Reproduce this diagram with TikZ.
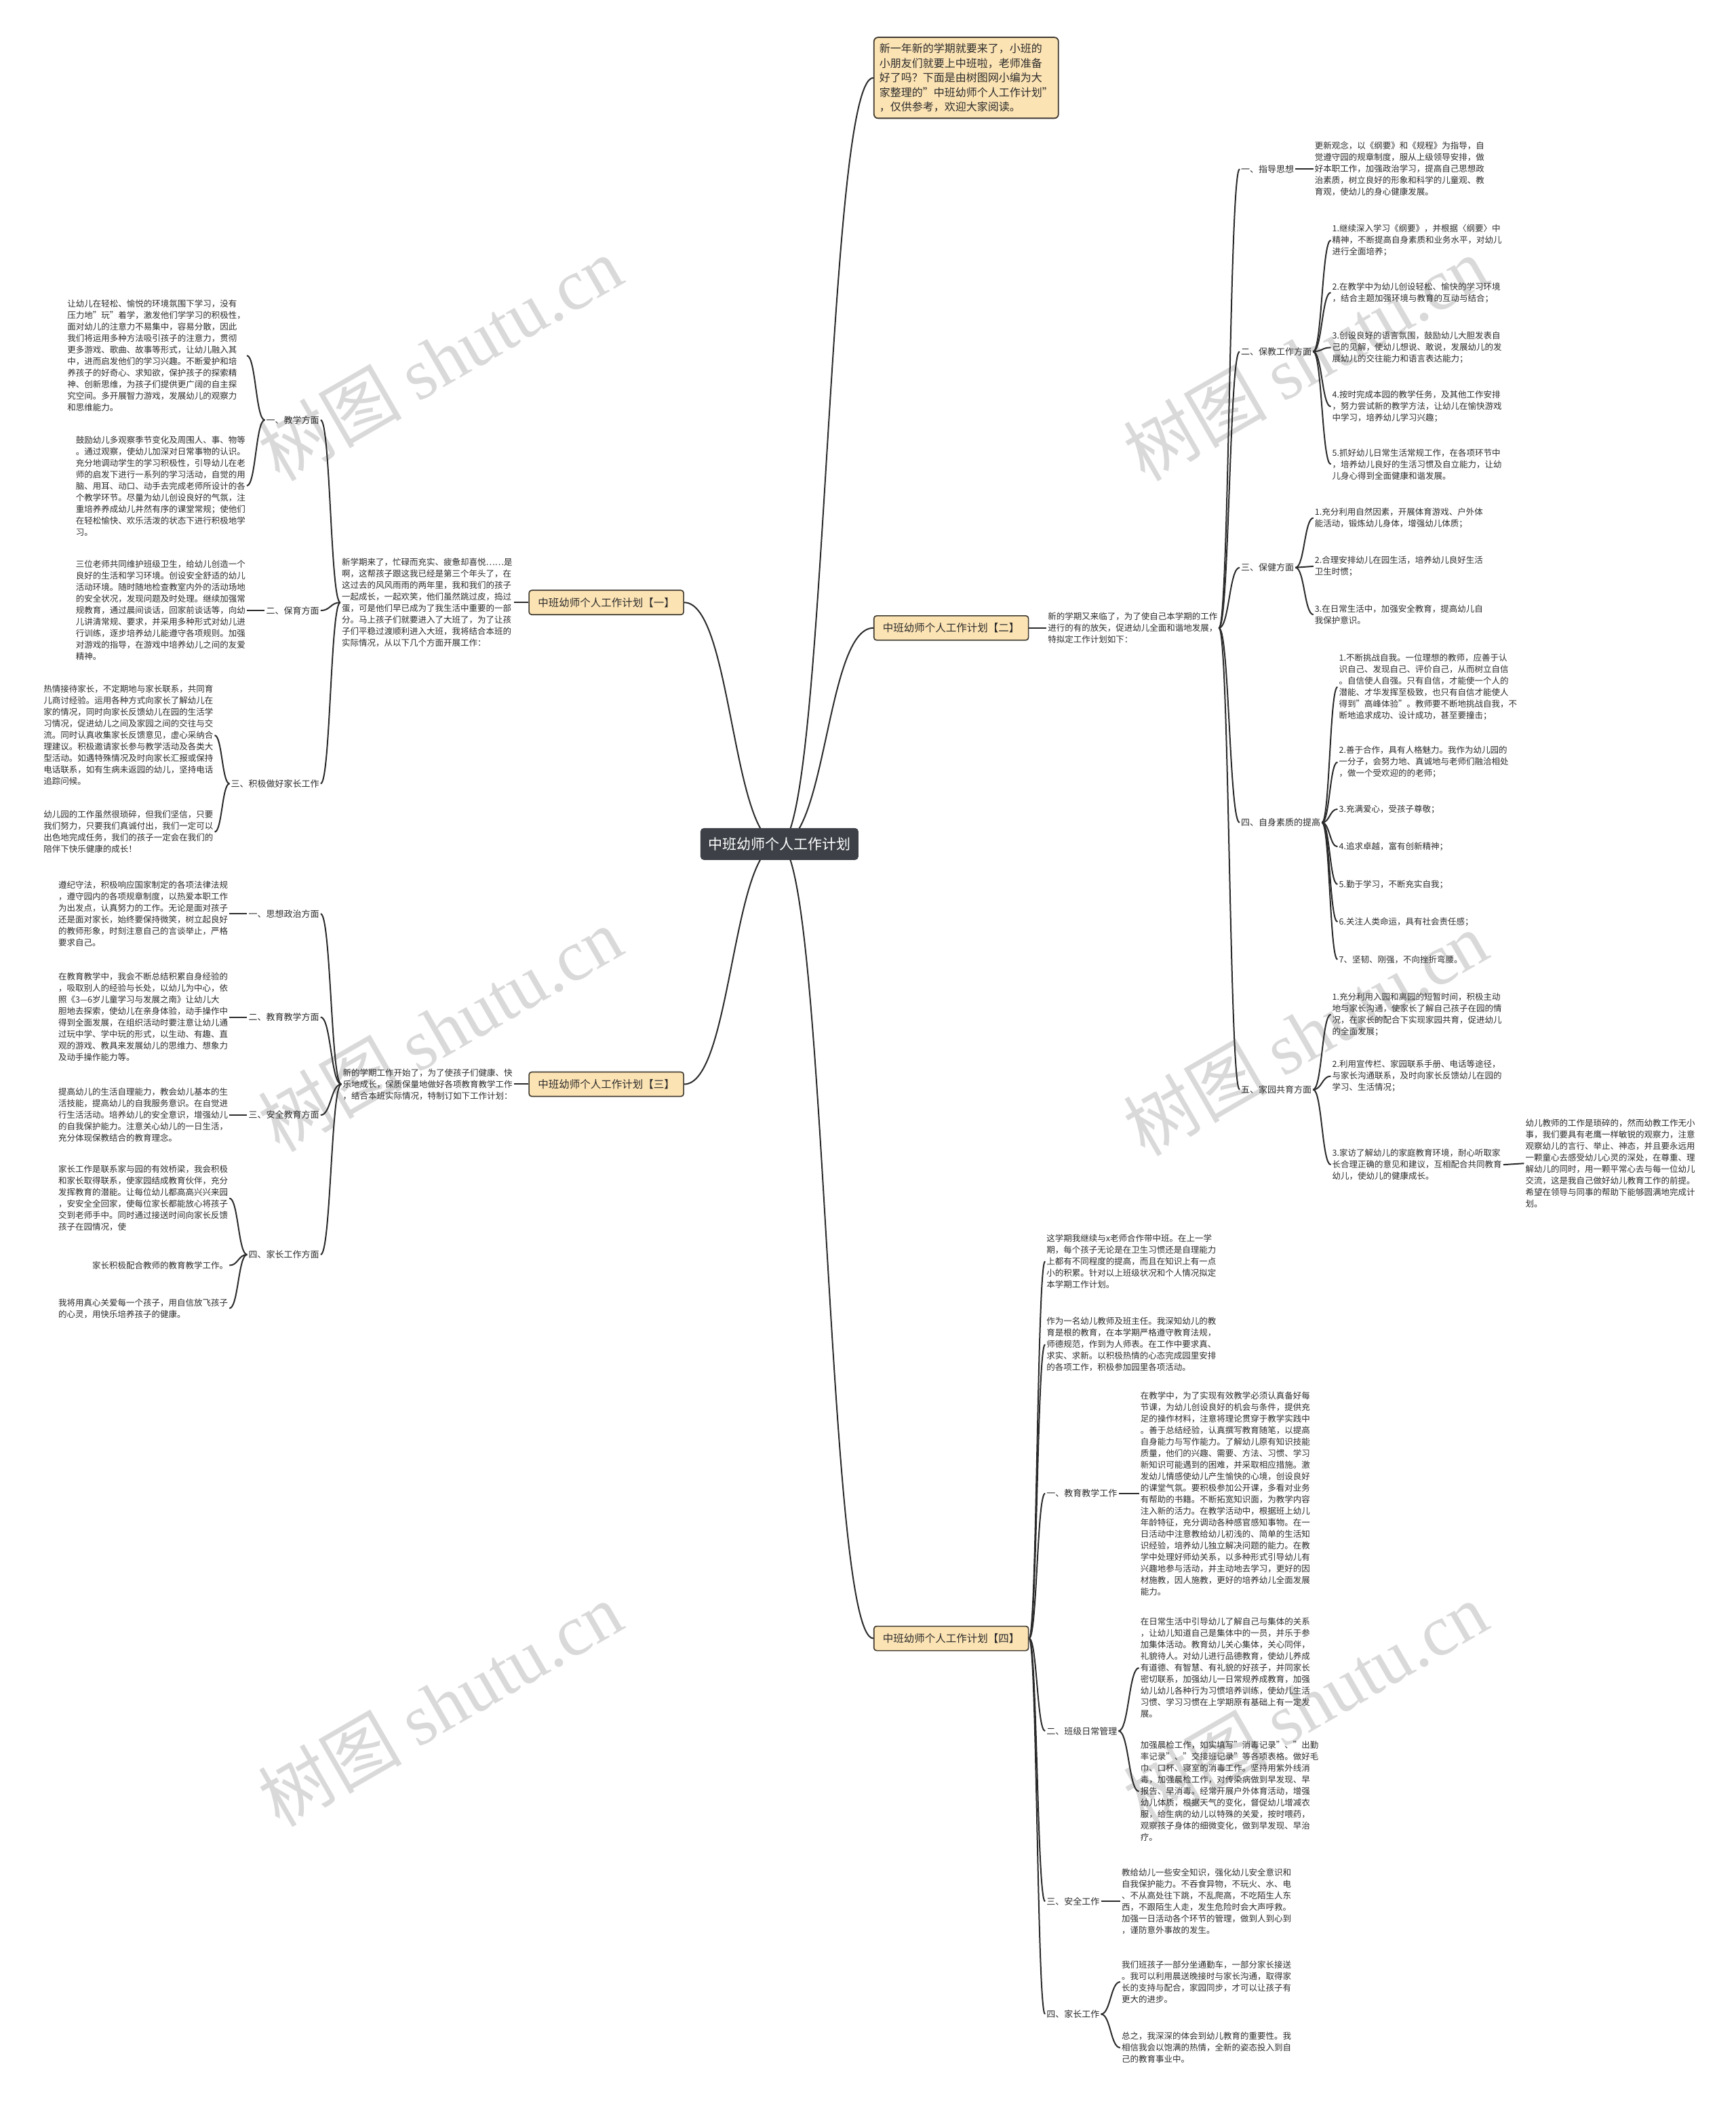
\documentclass[tikz,border=0pt]{standalone}
\usepackage{fontspec}
\setmainfont{Noto Sans CJK SC}
\newfontfamily\wmlatin{Liberation Serif}
\usetikzlibrary{calc,backgrounds}
\definecolor{boxfill}{HTML}{FCE3B4}
\definecolor{boxline}{HTML}{3F3A30}
\definecolor{rootfill}{HTML}{3D4147}
\definecolor{ink}{HTML}{2B2B2B}
\definecolor{wm}{HTML}{D9D9D9}
\tikzset{
  conn/.style={draw=ink, line width=2pt},
  tx/.style={font=\fontsize{12.5}{17}\selectfont, align=left, inner sep=2pt, text=ink},
  txf/.style={font=\fontsize{12.5}{17}\selectfont, align=left, inner sep=2pt, text=ink},
  lbl/.style={font=\fontsize{13}{17}\selectfont, inner sep=2pt, text=ink},
  brbox/.style={draw=boxline, fill=boxfill, rounded corners=4pt, line width=1.6pt,
    font=\fontsize{15.5}{18}\selectfont, minimum width=228pt, minimum height=36pt, inner sep=2pt, text=ink},
  introbox/.style={draw=boxline, fill=boxfill, rounded corners=6pt, line width=1.8pt,
    font=\fontsize{16}{21.5}\selectfont, align=left, inner xsep=8pt, inner ysep=9pt, text=ink},
  rootbox/.style={fill=rootfill, rounded corners=5pt, text=white,
    font=\fontsize{21}{24}\selectfont, minimum width=233pt, minimum height=47pt},
  wmark/.style={text=wm, rotate=30, font=\fontsize{106}{106}\selectfont}
}
\newcommand\lk[2]{\draw[conn] (#1) .. controls ($(#1)!0.5!(#2|-#1)$) and ($(#2)!0.5!(#1|-#2)$) .. (#2);}
\begin{document}
\begin{tikzpicture}[x=1.97836pt, y=-1.97836pt]
\useasboundingbox (0,0) rectangle (1294,1568);

% root and branch boxes
\node[rootbox] (root) at (581,629) {中班幼师个人工作计划};
\node[introbox, anchor=west] (intro) at (651,58) {新一年新的学期就要来了，小班的\\小朋友们就要上中班啦，老师准备\\好了吗？下面是由树图网小编为大\\家整理的"中班幼师个人工作计划"\\，仅供参考，欢迎大家阅读。};
\node[brbox, anchor=east] (b1) at (510,449) {中班幼师个人工作计划【一】};
\node[brbox, anchor=west] (b2) at (651,468) {中班幼师个人工作计划【二】};
\node[brbox, anchor=east] (b3) at (510,808) {中班幼师个人工作计划【三】};
\node[brbox, anchor=west] (b4) at (651,1221) {中班幼师个人工作计划【四】};

% ===== branch 2 =====
\node[tx, anchor=west] (t2) at (780,468) {新的学期又来临了，为了使自己本学期的工作\\进行的有的放矢，促进幼儿全面和谐地发展，\\特拟定工作计划如下：};
\node[lbl, anchor=west] (s21) at (924,126) {一、指导思想};
\node[lbl, anchor=west] (s22) at (924,262) {二、保教工作方面};
\node[lbl, anchor=west] (s23) at (924,423) {三、保健方面};
\node[lbl, anchor=west] (s24) at (924,613) {四、自身素质的提高};
\node[lbl, anchor=west] (s25) at (924,812) {五、家园共育方面};
\node[tx, anchor=west] (i211) at (979,126) {更新观念，以《纲要》和《规程》为指导，自\\觉遵守园的规章制度，服从上级领导安排，做\\好本职工作，加强政治学习，提高自己思想政\\治素质，树立良好的形象和科学的儿童观、教\\育观，使幼儿的身心健康发展。};
\node[tx, anchor=west] (i221) at (992,179) {1.继续深入学习《纲要》，并根据〈纲要〉中\\精神，不断提高自身素质和业务水平，对幼儿\\进行全面培养；};
\node[tx, anchor=west] (i222) at (992,218) {2.在教学中为幼儿创设轻松、愉快的学习环境\\，结合主题加强环境与教育的互动与结合；};
\node[tx, anchor=west] (i223) at (992,259) {3.创设良好的语言氛围，鼓励幼儿大胆发表自\\己的见解，使幼儿想说、敢说，发展幼儿的发\\展幼儿的交往能力和语言表达能力；};
\node[tx, anchor=west] (i224) at (992,303) {4.按时完成本园的教学任务，及其他工作安排\\，努力尝试新的教学方法，让幼儿在愉快游戏\\中学习，培养幼儿学习兴趣；};
\node[tx, anchor=west] (i225) at (992,346) {5.抓好幼儿日常生活常规工作，在各项环节中\\，培养幼儿良好的生活习惯及自立能力，让幼\\儿身心得到全面健康和谐发展。};
\node[tx, anchor=west] (i231) at (979,386) {1.充分利用自然因素，开展体育游戏、户外体\\能活动，锻炼幼儿身体，增强幼儿体质；};
\node[tx, anchor=west] (i232) at (979,422) {2.合理安排幼儿在园生活，培养幼儿良好生活\\卫生时惯；};
\node[tx, anchor=west] (i233) at (979,458) {3.在日常生活中，加强安全教育，提高幼儿自\\我保护意识。};
\node[tx, anchor=west] (i241) at (997,512) {1.不断挑战自我。一位理想的教师，应善于认\\识自己、发现自己、评价自己，从而树立自信\\。自信使人自强。只有自信，才能使一个人的\\潜能、才华发挥至极致，也只有自信才能使人\\得到"高峰体验"。教师要不断地挑战自我，不\\断地追求成功、设计成功，甚至要撞击；};
\node[tx, anchor=west] (i242) at (997,568) {2.善于合作，具有人格魅力。我作为幼儿园的\\一分子，会努力地、真诚地与老师们融洽相处\\，做一个受欢迎的的老师；};
\node[tx, anchor=west] (i243) at (997,603) {3.充满爱心，受孩子尊敬；};
\node[tx, anchor=west] (i244) at (997,631) {4.追求卓越，富有创新精神；};
\node[tx, anchor=west] (i245) at (997,659) {5.勤于学习，不断充实自我；};
\node[tx, anchor=west] (i246) at (997,687) {6.关注人类命运，具有社会责任感；};
\node[tx, anchor=west] (i247) at (997,715) {7、坚韧、刚强，不向挫折弯腰。};
\node[tx, anchor=west] (i251) at (992,756) {1.充分利用入园和离园的短暂时间，积极主动\\地与家长沟通，使家长了解自己孩子在园的情\\况，在家长的配合下实现家园共育，促进幼儿\\的全面发展；};
\node[tx, anchor=west] (i252) at (992,802) {2.利用宣传栏、家园联系手册、电话等途径，\\与家长沟通联系，及时向家长反馈幼儿在园的\\学习、生活情况；};
\node[tx, anchor=west] (i253) at (992,868) {3.家访了解幼儿的家庭教育环境，耐心听取家\\长合理正确的意见和建议，互相配合共同教育\\幼儿，使幼儿的健康成长。};
\node[tx, anchor=west] (i2531) at (1136,867) {幼儿教师的工作是琐碎的，然而幼教工作无小\\事，我们要具有老鹰一样敏锐的观察力，注意\\观察幼儿的言行、举止、神态，并且要永远用\\一颗童心去感受幼儿心灵的深处，在尊重、理\\解幼儿的同时，用一颗平常心去与每一位幼儿\\交流，这是我自己做好幼儿教育工作的前提。\\希望在领导与同事的帮助下能够圆满地完成计\\划。};

% ===== branch 1 =====
\node[tx, anchor=east] (t1) at (383,449) {新学期来了，忙碌而充实、疲惫却喜悦……是\\啊，这帮孩子跟这我已经是第三个年头了，在\\这过去的风风雨雨的两年里，我和我们的孩子\\一起成长，一起欢笑，他们虽然跳过皮，捣过\\蛋，可是他们早已成为了我生活中重要的一部\\分。马上孩子们就要进入了大班了，为了让孩\\子们平稳过渡顺利进入大班，我将结合本班的\\实际情况，从以下几个方面开展工作：};
\node[lbl, anchor=east] (s11) at (239,313) {一、教学方面};
\node[lbl, anchor=east] (s12) at (239,455) {二、保育方面};
\node[lbl, anchor=east] (s13) at (239,584) {三、积极做好家长工作};
\node[tx, anchor=east] (i111) at (184,265) {让幼儿在轻松、愉悦的环境氛围下学习，没有\\压力地"玩"着学，激发他们学学习的积极性，\\面对幼儿的注意力不易集中，容易分散，因此\\我们将运用多种方法吸引孩子的注意力，贯彻\\更多游戏、歌曲、故事等形式，让幼儿融入其\\中，进而启发他们的学习兴趣。不断爱护和培\\养孩子的好奇心、求知欲，保护孩子的探索精\\神、创新思维，为孩子们提供更广阔的自主探\\究空间。多开展智力游戏，发展幼儿的观察力\\和思维能力。};
\node[tx, anchor=east] (i112) at (184,362) {鼓励幼儿多观察季节变化及周围人、事、物等\\。通过观察，使幼儿加深对日常事物的认识。\\充分地调动学生的学习积极性，引导幼儿在老\\师的启发下进行一系列的学习活动，自觉的用\\脑、用耳、动口、动手去完成老师所设计的各\\个教学环节。尽量为幼儿创设良好的气氛，注\\重培养养成幼儿井然有序的课堂常规；使他们\\在轻松愉快、欢乐活泼的状态下进行积极地学\\习。};
\node[tx, anchor=east] (i121) at (184,455) {三位老师共同维护班级卫生，给幼儿创造一个\\良好的生活和学习环境。创设安全舒适的幼儿\\活动环境。随时随地检查教室内外的活动场地\\的安全状况，发现问题及时处理。继续加强常\\规教育，通过晨间谈话，回家前谈话等，向幼\\儿讲清常规、要求，并采用多种形式对幼儿进\\行训练，逐步培养幼儿能遵守各项规则。加强\\对游戏的指导，在游戏中培养幼儿之间的友爱\\精神。};
\node[tx, anchor=east] (i131) at (160,548) {热情接待家长，不定期地与家长联系，共同育\\儿商讨经验。运用各种方式向家长了解幼儿在\\家的情况，同时向家长反馈幼儿在园的生活学\\习情况，促进幼儿之间及家园之间的交往与交\\流。同时认真收集家长反馈意见，虚心采纳合\\理建议。积极邀请家长参与教学活动及各类大\\型活动。如遇特殊情况及时向家长汇报或保持\\电话联系，如有生病未返园的幼儿，坚持电话\\追踪问候。};
\node[tx, anchor=east] (i132) at (160,620) {幼儿园的工作虽然很琐碎，但我们坚信，只要\\我们努力，只要我们真诚付出，我们一定可以\\出色地完成任务，我们的孩子一定会在我们的\\陪伴下快乐健康的成长！};

% ===== branch 3 =====
\node[tx, anchor=east] (t3) at (383,808) {新的学期工作开始了，为了使孩子们健康、快\\乐地成长，保质保量地做好各项教育教学工作\\，结合本班实际情况，特制订如下工作计划：};
\node[lbl, anchor=east] (s31) at (239,681) {一、思想政治方面};
\node[lbl, anchor=east] (s32) at (239,758) {二、教育教学方面};
\node[lbl, anchor=east] (s33) at (239,831) {三、安全教育方面};
\node[lbl, anchor=east] (s34) at (239,935) {四、家长工作方面};
\node[tx, anchor=east] (i311) at (171,681) {遵纪守法，积极响应国家制定的各项法律法规\\，遵守园内的各项规章制度，以热爱本职工作\\为出发点，认真努力的工作。无论是面对孩子\\还是面对家长，始终要保持微笑，树立起良好\\的教师形象，时刻注意自己的言谈举止，严格\\要求自己。};
\node[tx, anchor=east] (i321) at (171,758) {在教育教学中，我会不断总结积累自身经验的\\，吸取别人的经验与长处，以幼儿为中心，依\\照《3—6岁儿童学习与发展之南》让幼儿大\\胆地去探索，使幼儿在亲身体验，动手操作中\\得到全面发展，在组织活动时要注意让幼儿通\\过玩中学、学中玩的形式，以生动、有趣、直\\观的游戏、教具来发展幼儿的思维力、想象力\\及动手操作能力等。};
\node[tx, anchor=east] (i331) at (171,831) {提高幼儿的生活自理能力，教会幼儿基本的生\\活技能，提高幼儿的自我服务意识。在自觉进\\行生活活动。培养幼儿的安全意识，增强幼儿\\的自我保护能力。注意关心幼儿的一日生活，\\充分体现保教结合的教育理念。};
\node[tx, anchor=east] (i341) at (171,893) {家长工作是联系家与园的有效桥梁，我会积极\\和家长取得联系，使家园结成教育伙伴，充分\\发挥教育的潜能。让每位幼儿都高高兴兴来园\\，安安全全回家，使每位家长都能放心将孩子\\交到老师手中。同时通过接送时间向家长反馈\\孩子在园情况，使};
\node[tx, anchor=east] (i342) at (171,943) {家长积极配合教师的教育教学工作。};
\node[tx, anchor=east] (i343) at (171,975) {我将用真心关爱每一个孩子，用自信放飞孩子\\的心灵，用快乐培养孩子的健康。};

% ===== branch 4 =====
\node[txf, anchor=west] (i41) at (779,940) {这学期我继续与x老师合作带中班。在上一学\\期，每个孩子无论是在卫生习惯还是自理能力\\上都有不同程度的提高，而且在知识上有一点\\小的积累。针对以上班级状况和个人情况拟定\\本学期工作计划。};
\node[txf, anchor=west] (i42) at (779,1002) {作为一名幼儿教师及班主任。我深知幼儿的教\\育是根的教育，在本学期严格遵守教育法规，\\师德规范，作到为人师表。在工作中要求真、\\求实、求新。以积极热情的心态完成园里安排\\的各项工作，积极参加园里各项活动。};
\node[lbl, anchor=west] (s41) at (779,1113) {一、教育教学工作};
\node[lbl, anchor=west] (s42) at (779,1290) {二、班级日常管理};
\node[lbl, anchor=west] (s43) at (779,1417) {三、安全工作};
\node[lbl, anchor=west] (s44) at (779,1501) {四、家长工作};
\node[txf, anchor=west] (i411) at (849,1113) {在教学中，为了实现有效教学必须认真备好每\\节课，为幼儿创设良好的机会与条件，提供充\\足的操作材料，注意将理论贯穿于教学实践中\\。善于总结经验，认真撰写教育随笔，以提高\\自身能力与写作能力。了解幼儿原有知识技能\\质量，他们的兴趣、需要、方法、习惯、学习\\新知识可能遇到的困难，并采取相应措施。激\\发幼儿情感使幼儿产生愉快的心境，创设良好\\的课堂气氛。要积极参加公开课，多看对业务\\有帮助的书籍。不断拓宽知识面，为教学内容\\注入新的活力。在教学活动中，根据班上幼儿\\年龄特征，充分调动各种感官感知事物。在一\\日活动中注意教给幼儿初浅的、简单的生活知\\识经验，培养幼儿独立解决问题的能力。在教\\学中处理好师幼关系，以多种形式引导幼儿有\\兴趣地参与活动，并主动地去学习，更好的因\\材施教，因人施教，更好的培养幼儿全面发展\\能力。};
\node[txf, anchor=west] (i421) at (849,1243) {在日常生活中引导幼儿了解自己与集体的关系\\，让幼儿知道自己是集体中的一员，并乐于参\\加集体活动。教育幼儿关心集体，关心同伴，\\礼貌待人。对幼儿进行品德教育，使幼儿养成\\有道德、有智慧、有礼貌的好孩子，并同家长\\密切联系，加强幼儿一日常规养成教育，加强\\幼儿幼儿各种行为习惯培养训练，使幼儿生活\\习惯、学习习惯在上学期原有基础上有一定发\\展。};
\node[txf, anchor=west] (i422) at (849,1335) {加强晨检工作，如实填写"消毒记录"、"出勤\\率记录"、"交接班记录"等各项表格。做好毛\\巾、口杯、寝室的消毒工作。坚持用紫外线消\\毒，加强晨检工作，对传染病做到早发现、早\\报告、早消毒。经常开展户外体育活动，增强\\幼儿体质，根据天气的变化，督促幼儿增减衣\\服，给生病的幼儿以特殊的关爱，按时喂药，\\观察孩子身体的细微变化，做到早发现、早治\\疗。};
\node[txf, anchor=west] (i431) at (835,1417) {教给幼儿一些安全知识，强化幼儿安全意识和\\自我保护能力。不吞食异物，不玩火、水、电\\、不从高处往下跳，不乱爬高，不吃陌生人东\\西，不跟陌生人走，发生危险时会大声呼救。\\加强一日活动各个环节的管理，做到人到心到\\，谨防意外事故的发生。};
\node[txf, anchor=west] (i441) at (835,1477) {我们班孩子一部分坐通勤车，一部分家长接送\\。我可以利用晨送晚接时与家长沟通，取得家\\长的支持与配合，家园同步，才可以让孩子有\\更大的进步。};
\node[txf, anchor=west] (i442) at (835,1526) {总之，我深深的体会到幼儿教育的重要性。我\\相信我会以饱满的热情，全新的姿态投入到自\\己的教育事业中。};

\begin{scope}[on background layer]
% watermarks
\node[wmark] (wm1) at (328,267) {树图 {\wmlatin shutu.cn}};
\node[wmark] (wm2) at (973,267) {树图 {\wmlatin shutu.cn}};
\node[wmark] (wm3) at (328,767) {树图 {\wmlatin shutu.cn}};
\node[wmark] (wm4) at (973,770) {树图 {\wmlatin shutu.cn}};
\node[wmark] (wm5) at (328,1270) {树图 {\wmlatin shutu.cn}};
\node[wmark] (wm6) at (973,1270) {树图 {\wmlatin shutu.cn}};
% root connectors
\lk{root.center}{intro.west}
\lk{root.center}{b2.west}
\lk{root.center}{b4.west}
\lk{root.center}{b1.east}
\lk{root.center}{b3.east}
% branch 2
\draw[conn] (b2.east) -- (t2.west);
\foreach \s in {s21,s22,s23,s24,s25} {\lk{t2.east}{\s.west}}
\draw[conn] (s21.east) -- (i211.west);
\foreach \s in {i221,i222,i223,i224,i225} {\lk{s22.east}{\s.west}}
\foreach \s in {i231,i232,i233} {\lk{s23.east}{\s.west}}
\foreach \s in {i241,i242,i243,i244,i245,i246,i247} {\lk{s24.east}{\s.west}}
\foreach \s in {i251,i252,i253} {\lk{s25.east}{\s.west}}
\draw[conn] (i253.east) -- (i2531.west);
% branch 1
\draw[conn] (b1.west) -- (t1.east);
\foreach \s in {s11,s12,s13} {\lk{t1.west}{\s.east}}
\foreach \s in {i111,i112} {\lk{s11.west}{\s.east}}
\draw[conn] (s12.west) -- (i121.east);
\foreach \s in {i131,i132} {\lk{s13.west}{\s.east}}
% branch 3
\draw[conn] (b3.west) -- (t3.east);
\foreach \s in {s31,s32,s33,s34} {\lk{t3.west}{\s.east}}
\draw[conn] (s31.west) -- (i311.east);
\draw[conn] (s32.west) -- (i321.east);
\draw[conn] (s33.west) -- (i331.east);
\foreach \s in {i341,i342,i343} {\lk{s34.west}{\s.east}}
% branch 4
\foreach \s in {i41,i42,s41,s42,s43,s44} {\lk{b4.east}{\s.west}}
\draw[conn] (s41.east) -- (i411.west);
\foreach \s in {i421,i422} {\lk{s42.east}{\s.west}}
\draw[conn] (s43.east) -- (i431.west);
\foreach \s in {i441,i442} {\lk{s44.east}{\s.west}}
\end{scope}
\end{tikzpicture}
\end{document}
